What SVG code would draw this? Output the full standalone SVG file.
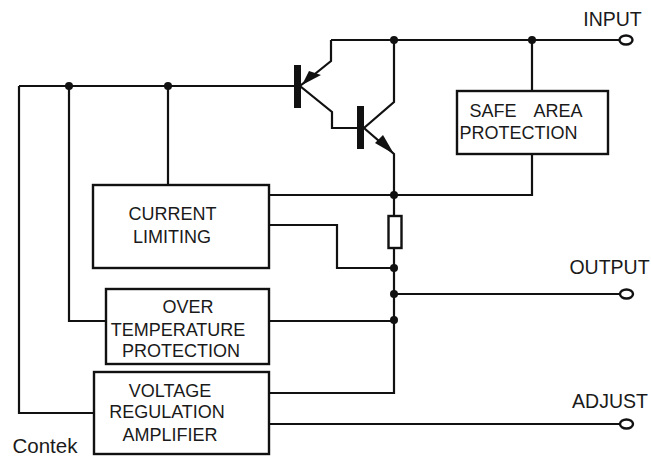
<svg xmlns="http://www.w3.org/2000/svg" width="651" height="457" viewBox="0 0 651 457">
<defs><style>
.w{fill:none;stroke:#111;stroke-width:2.2}
.b{fill:#fff;stroke:#111;stroke-width:2.4}
.d{fill:#111}
.t{font-family:"Liberation Sans",Arial,sans-serif;font-size:18px;fill:#1a1a1a;text-anchor:middle}
.l{font-size:19.5px}
.p{fill:#fff;stroke:#111;stroke-width:2.4}
</style></defs>
<rect width="651" height="457" fill="#fff"/>
<g id="connectors">
<path class="w" d="M19 86H295M19 86V413H94M69 86V321H106M168 86V185"/>
<path class="w" d="M331 40H620M331 40V61L300 86L332 112V128H358"/>
<path class="w" d="M394 40V102L364 128L394 154V195"/>
<path class="w" d="M532 40V91M532 154V195H269"/>
<path class="w" d="M394 195V393H269"/>
<path class="w" d="M269 225H337V268H394"/>
<path class="w" d="M269 321H394M394 294H620M269 424H620"/>
<polygon class="d" points="302,85 309,71 321,75"/>
<polygon class="d" points="394,154 375,143 383,135"/>
<rect x="294" y="65" width="7" height="43" class="d"/>
<rect x="357" y="106" width="7" height="43" class="d"/>
</g>
<g id="junctions">
<circle class="d" cx="69" cy="86" r="4"/>
<circle class="d" cx="168" cy="86" r="4"/>
<circle class="d" cx="394" cy="40" r="4"/>
<circle class="d" cx="532" cy="40" r="4"/>
<circle class="d" cx="394" cy="195" r="4"/>
<circle class="d" cx="394" cy="268" r="4"/>
<circle class="d" cx="394" cy="294" r="4"/>
<circle class="d" cx="394" cy="320" r="4"/>
</g>
<g id="resistor"><rect class="b" x="388.500" y="216" width="13" height="32"/></g>
<g id="safe-area"><rect class="b" x="457" y="91" width="151" height="63"/>
<text class="t" style="word-spacing:1px" x="526" y="117" xml:space="preserve">SAFE   AREA</text><text class="t" x="518.500" y="139">PROTECTION</text></g>
<g id="current-limiting"><rect class="b" x="93" y="185" width="176" height="83"/>
<text class="t" x="172.500" y="220">CURRENT</text><text class="t" x="172" y="243">LIMITING</text></g>
<g id="over-temperature"><rect class="b" x="106" y="289" width="163" height="75"/>
<text class="t" x="188" y="313">OVER</text><text class="t" x="178" y="336">TEMPERATURE</text><text class="t" x="181" y="357">PROTECTION</text></g>
<g id="voltage-regulation"><rect class="b" x="94" y="372" width="175" height="82"/>
<text class="t" x="170" y="397">VOLTAGE</text><text class="t" x="167" y="418">REGULATION</text><text class="t" x="170" y="441">AMPLIFIER</text></g>
<g id="input"><ellipse class="p" cx="626" cy="40" rx="6.500" ry="4.500"/><text class="t l" x="612.500" y="26">INPUT</text></g>
<g id="output"><ellipse class="p" cx="626.500" cy="294" rx="6.500" ry="4.500"/><text class="t l" x="609.500" y="274">OUTPUT</text></g>
<g id="adjust"><ellipse class="p" cx="626.500" cy="424" rx="6.500" ry="4.500"/><text class="t l" x="610" y="408">ADJUST</text></g>
<text class="t" style="font-size:20.5px" x="45" y="453">Contek</text>
</svg>
